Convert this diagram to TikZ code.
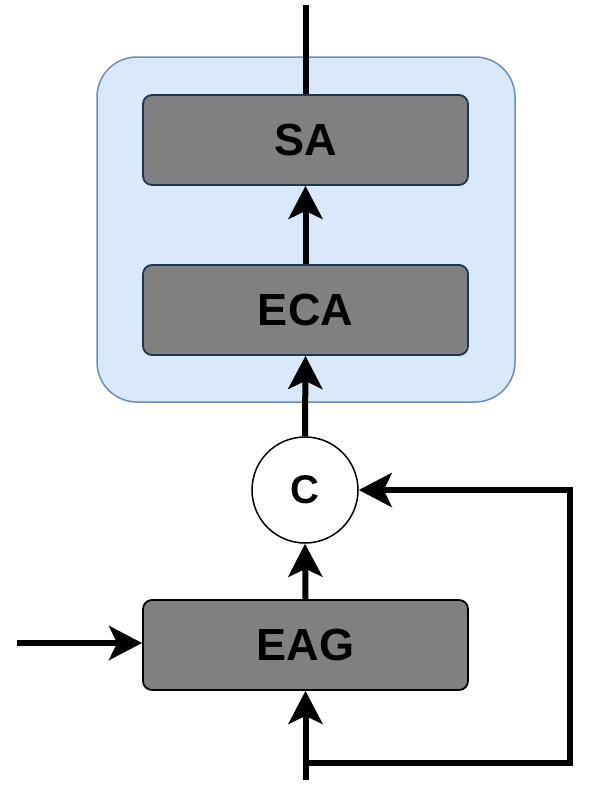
\documentclass[tikz,border=0pt]{standalone}
\usepackage{fontspec}
\setmainfont{Liberation Sans}
\usetikzlibrary{arrows.meta}
\definecolor{contfill}{HTML}{DAE8FC}
\definecolor{contdraw}{HTML}{6C8EBF}
\definecolor{boxfill}{HTML}{808080}
\definecolor{boxdraw}{HTML}{1E3650}
\begin{document}
\begin{tikzpicture}[x=1pt,y=-1pt,
  container/.style={fill=contfill,draw=contdraw,line width=1.5pt,rounded corners=40pt},
  block/.style={rectangle,fill=boxfill,draw=boxdraw,line width=1.8pt,rounded corners=9pt,
    minimum width=325pt,minimum height=90pt,inner sep=0pt,
    font=\fontsize{45}{54}\selectfont\bfseries},
  joiner/.style={circle,fill=white,draw=black,line width=1.5pt,minimum size=106pt,inner sep=0pt,
    font=\fontsize{40}{48}\selectfont\bfseries},
  wire/.style={line width=6pt,line join=miter},
  arr/.style={wire,-{Stealth[length=33pt,width=34pt,inset=8pt]}}]
\useasboundingbox (0,0) rectangle (591,798);
\draw[container] (97,57) rectangle (515,402);
\node[block] (SA) at (305.5,140) {SA};
\node[block] (ECA) at (305.5,310) {ECA};
\node[joiner] (C) at (305,490) {C};
\node[block,draw=black] (EAG) at (305.5,645) {EAG};
\coordinate (top) at (305.5,5);
\coordinate (in) at (17,643);
\coordinate (bot) at (305.5,780);
\coordinate (fb) at (305.5,763);
\coordinate (fbr) at (570,763);
\draw[wire] (SA.north) -- (top);
\draw[arr] (ECA.north) -- (SA.south);
\draw[arr] (C.north) -- (ECA.south);
\draw[arr] (EAG.north) -- (C.south);
\draw[arr] (in) -- (in -| EAG.west);
\draw[arr] (bot) -- (EAG.south);
\draw[arr] (fb) -- (fbr) |- (C.east);
\end{tikzpicture}
\end{document}
